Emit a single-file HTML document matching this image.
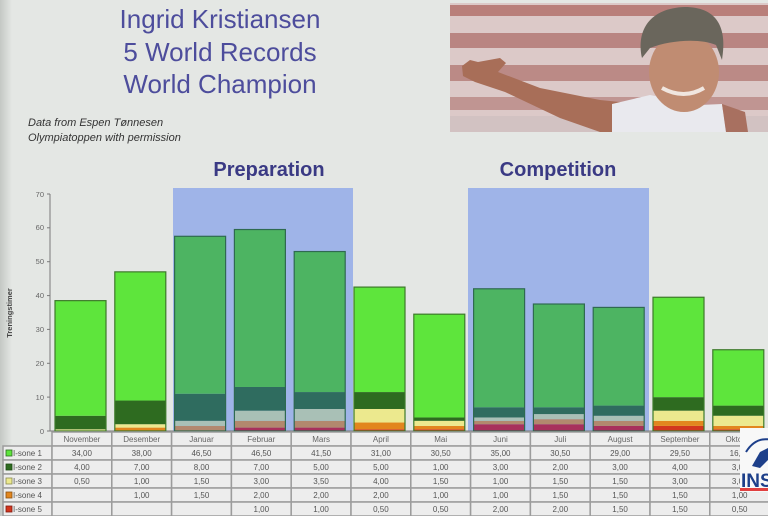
<!DOCTYPE html>
<html><head><meta charset="utf-8"><style>
html,body{margin:0;padding:0;width:768px;height:516px;overflow:hidden;background:#e4e7e4}
svg{display:block}
text{font-family:"Liberation Sans",sans-serif}
</style></head><body>
<svg width="768" height="516" viewBox="0 0 768 516" xmlns="http://www.w3.org/2000/svg">
<defs>
<linearGradient id="lv" x1="0" x2="1" y1="0" y2="0"><stop offset="0" stop-color="#c4c8c4"/><stop offset="1" stop-color="#e4e7e4"/></linearGradient>
<clipPath id="lg"><rect x="740" y="428" width="28" height="64"/></clipPath>
</defs>
<rect width="768" height="516" fill="#e4e7e4"/>
<rect width="12" height="516" fill="url(#lv)"/>

<!-- Title -->
<g fill="#4d4d9c" font-size="26" text-anchor="middle">
<text x="220" y="28">Ingrid Kristiansen</text>
<text x="220" y="61">5 World Records</text>
<text x="220" y="93">World Champion</text>
</g>
<g fill="#333" font-size="11" font-style="italic">
<text x="28" y="126">Data from Espen Tønnesen</text>
<text x="28" y="141">Olympiatoppen with permission</text>
</g>

<!-- Photo -->
<g>
<rect x="450" y="3" width="318" height="129" fill="#dcc9c8"/>
<rect x="450" y="5" width="318" height="11" fill="#b97f7a"/>
<rect x="450" y="33" width="318" height="15" fill="#b98582"/>
<rect x="450" y="65" width="318" height="16" fill="#bb8a86"/>
<rect x="450" y="97" width="318" height="13" fill="#c09592"/>
<rect x="450" y="116" width="318" height="16" fill="#d2c2c2"/>
<!-- arm -->
<path d="M462,66 L470,60 L478,62 L500,58 L506,63 L498,72 L540,88 L600,100 L640,104 L640,132 L600,132 L560,118 L505,92 L475,82 L463,76 Z" fill="#a86e58"/>
<!-- body/shirt -->
<path d="M612,104 L650,95 L700,105 L722,104 L726,132 L612,132 Z" fill="#e9e9ee"/>
<path d="M722,104 L745,112 L748,132 L726,132 Z" fill="#a87060"/>
<!-- face -->
<ellipse cx="684" cy="72" rx="35" ry="40" fill="#c08c72"/>
<!-- hair -->
<path d="M642,58 C636,30 650,8 685,7 C715,7 728,25 722,60 L716,45 C700,38 670,40 650,48 Z" fill="#6a665c"/>
<path d="M662,88 Q684,100 704,88" stroke="#f0e6e0" stroke-width="4" fill="none"/>
</g>

<!-- Phase labels -->
<g fill="#3a3a84" font-size="20" font-weight="bold" text-anchor="middle">
<text x="269" y="176">Preparation</text>
<text x="558" y="176">Competition</text>
</g>

<!-- Blue phase backgrounds -->
<rect x="173" y="188" width="180" height="243" fill="#9fb4e8"/>
<rect x="468" y="188" width="181" height="243" fill="#9fb4e8"/>

<!-- Axes -->
<line x1="50" y1="194" x2="50" y2="431" stroke="#7a7a7a" stroke-width="1"/>
<line x1="50" y1="431" x2="768" y2="431" stroke="#7a7a7a" stroke-width="1"/>
<g stroke="#7a7a7a" stroke-width="1">
<line x1="47" y1="431" x2="50" y2="431"/><line x1="47" y1="397.1" x2="50" y2="397.1"/>
<line x1="47" y1="363.3" x2="50" y2="363.3"/><line x1="47" y1="329.4" x2="50" y2="329.4"/>
<line x1="47" y1="295.6" x2="50" y2="295.6"/><line x1="47" y1="261.7" x2="50" y2="261.7"/>
<line x1="47" y1="227.8" x2="50" y2="227.8"/><line x1="47" y1="194" x2="50" y2="194"/>
</g>
<g fill="#666" font-size="7.5" text-anchor="end">
<text x="44" y="434">0</text><text x="44" y="400">10</text><text x="44" y="366">20</text>
<text x="44" y="332">30</text><text x="44" y="298">40</text><text x="44" y="264">50</text>
<text x="44" y="230">60</text><text x="44" y="197">70</text>
</g>
<text x="0" y="0" transform="translate(12,313) rotate(-90)" text-anchor="middle" font-size="7.5" font-weight="bold" fill="#444">Treningstimer</text>

<!-- Bars (normal) -->
<g stroke="none">
<!-- Nov -->
<rect x="55" y="429.31" width="51" height="1.69" fill="#ece98e"/>
<rect x="55" y="415.76" width="51" height="13.55" fill="#2e6b20"/>
<rect x="55" y="300.64" width="51" height="115.12" fill="#5ee53c"/>
<!-- Des -->
<rect x="114.8" y="427.61" width="51" height="3.39" fill="#e2861e"/>
<rect x="114.8" y="424.23" width="51" height="3.38" fill="#ece98e"/>
<rect x="114.8" y="400.53" width="51" height="23.70" fill="#2e6b20"/>
<rect x="114.8" y="271.86" width="51" height="128.67" fill="#5ee53c"/>
<!-- Jan (blue) -->
<rect x="174.6" y="425.92" width="51" height="5.08" fill="#b2886e"/>
<rect x="174.6" y="420.84" width="51" height="5.08" fill="#a9c0b6"/>
<rect x="174.6" y="393.75" width="51" height="27.09" fill="#2f6c5f"/>
<rect x="174.6" y="236.30" width="51" height="157.45" fill="#4db462"/>
<!-- Feb -->
<rect x="234.4" y="427.61" width="51" height="3.39" fill="#a8305c"/>
<rect x="234.4" y="420.84" width="51" height="6.77" fill="#b2886e"/>
<rect x="234.4" y="410.68" width="51" height="10.16" fill="#a9c0b6"/>
<rect x="234.4" y="386.98" width="51" height="23.70" fill="#2f6c5f"/>
<rect x="234.4" y="229.53" width="51" height="157.45" fill="#4db462"/>
<!-- Mar -->
<rect x="294.2" y="427.61" width="51" height="3.39" fill="#a8305c"/>
<rect x="294.2" y="420.84" width="51" height="6.77" fill="#b2886e"/>
<rect x="294.2" y="408.99" width="51" height="11.85" fill="#a9c0b6"/>
<rect x="294.2" y="392.06" width="51" height="16.93" fill="#2f6c5f"/>
<rect x="294.2" y="251.54" width="51" height="140.52" fill="#4db462"/>
<!-- Apr -->
<rect x="354" y="429.31" width="51" height="1.69" fill="#d2361e"/>
<rect x="354" y="422.53" width="51" height="6.78" fill="#e2861e"/>
<rect x="354" y="408.99" width="51" height="13.54" fill="#ece98e"/>
<rect x="354" y="392.06" width="51" height="16.93" fill="#2e6b20"/>
<rect x="354" y="287.09" width="51" height="104.97" fill="#5ee53c"/>
<!-- Mai -->
<rect x="413.8" y="429.31" width="51" height="1.69" fill="#d2361e"/>
<rect x="413.8" y="425.92" width="51" height="3.39" fill="#e2861e"/>
<rect x="413.8" y="420.84" width="51" height="5.08" fill="#ece98e"/>
<rect x="413.8" y="417.46" width="51" height="3.38" fill="#2e6b20"/>
<rect x="413.8" y="314.18" width="51" height="103.28" fill="#5ee53c"/>
<!-- Jun (blue) -->
<rect x="473.6" y="424.23" width="51" height="6.77" fill="#a8305c"/>
<rect x="473.6" y="420.84" width="51" height="3.39" fill="#b2886e"/>
<rect x="473.6" y="417.46" width="51" height="3.38" fill="#a9c0b6"/>
<rect x="473.6" y="407.30" width="51" height="10.16" fill="#2f6c5f"/>
<rect x="473.6" y="288.79" width="51" height="118.51" fill="#4db462"/>
<!-- Jul -->
<rect x="533.4" y="424.23" width="51" height="6.77" fill="#a8305c"/>
<rect x="533.4" y="419.15" width="51" height="5.08" fill="#b2886e"/>
<rect x="533.4" y="414.07" width="51" height="5.08" fill="#a9c0b6"/>
<rect x="533.4" y="407.30" width="51" height="6.77" fill="#2f6c5f"/>
<rect x="533.4" y="304.02" width="51" height="103.28" fill="#4db462"/>
<!-- Aug -->
<rect x="593.2" y="425.92" width="51" height="5.08" fill="#a8305c"/>
<rect x="593.2" y="420.84" width="51" height="5.08" fill="#b2886e"/>
<rect x="593.2" y="415.76" width="51" height="5.08" fill="#a9c0b6"/>
<rect x="593.2" y="405.60" width="51" height="10.16" fill="#2f6c5f"/>
<rect x="593.2" y="307.41" width="51" height="98.19" fill="#4db462"/>
<!-- Sep -->
<rect x="653" y="425.92" width="51" height="5.08" fill="#d2361e"/>
<rect x="653" y="420.84" width="51" height="5.08" fill="#e2861e"/>
<rect x="653" y="410.68" width="51" height="10.16" fill="#ece98e"/>
<rect x="653" y="397.14" width="51" height="13.54" fill="#2e6b20"/>
<rect x="653" y="297.25" width="51" height="99.89" fill="#5ee53c"/>
<!-- Okt -->
<rect x="712.8" y="429.31" width="51" height="1.69" fill="#d2361e"/>
<rect x="712.8" y="425.92" width="51" height="3.39" fill="#e2861e"/>
<rect x="712.8" y="415.76" width="51" height="10.16" fill="#ece98e"/>
<rect x="712.8" y="405.60" width="51" height="10.16" fill="#2e6b20"/>
<rect x="712.8" y="349.74" width="51" height="55.86" fill="#5ee53c"/>
</g>
<!-- Bar outlines -->
<g fill="none" stroke-width="1.2">
<rect x="55" y="300.64" width="51" height="130.36" stroke="#3d7a2a"/>
<rect x="114.8" y="271.86" width="51" height="159.14" stroke="#3d7a2a"/>
<rect x="174.6" y="236.30" width="51" height="194.70" stroke="#2f6a50"/>
<rect x="234.4" y="229.53" width="51" height="201.47" stroke="#2f6a50"/>
<rect x="294.2" y="251.54" width="51" height="179.46" stroke="#2f6a50"/>
<rect x="354" y="287.09" width="51" height="143.91" stroke="#3d7a2a"/>
<rect x="413.8" y="314.18" width="51" height="116.82" stroke="#3d7a2a"/>
<rect x="473.6" y="288.79" width="51" height="142.21" stroke="#2f6a50"/>
<rect x="533.4" y="304.02" width="51" height="126.98" stroke="#2f6a50"/>
<rect x="593.2" y="307.41" width="51" height="123.59" stroke="#2f6a50"/>
<rect x="653" y="297.25" width="51" height="133.75" stroke="#3d7a2a"/>
<rect x="712.8" y="349.74" width="51" height="81.26" stroke="#3d7a2a"/>
</g>

<!-- Table -->
<g fill="#ededed" stroke="#9c9c9c" stroke-width="1.5">
<rect x="3" y="446" width="49" height="14"/><rect x="3" y="460" width="49" height="14"/>
<rect x="3" y="474" width="49" height="14"/><rect x="3" y="488" width="49" height="14"/>
<rect x="3" y="502" width="49" height="14"/>
</g>
<g fill="#ededed" stroke="#9c9c9c" stroke-width="1.5">
<rect x="52" y="432" width="59.8" height="14"/><rect x="111.8" y="432" width="59.8" height="14"/><rect x="171.6" y="432" width="59.8" height="14"/><rect x="231.4" y="432" width="59.8" height="14"/><rect x="291.2" y="432" width="59.8" height="14"/><rect x="351" y="432" width="59.8" height="14"/><rect x="410.8" y="432" width="59.8" height="14"/><rect x="470.6" y="432" width="59.8" height="14"/><rect x="530.4" y="432" width="59.8" height="14"/><rect x="590.2" y="432" width="59.8" height="14"/><rect x="650" y="432" width="59.8" height="14"/><rect x="709.8" y="432" width="59.8" height="14"/>
<rect x="52" y="446" width="59.8" height="14"/><rect x="111.8" y="446" width="59.8" height="14"/><rect x="171.6" y="446" width="59.8" height="14"/><rect x="231.4" y="446" width="59.8" height="14"/><rect x="291.2" y="446" width="59.8" height="14"/><rect x="351" y="446" width="59.8" height="14"/><rect x="410.8" y="446" width="59.8" height="14"/><rect x="470.6" y="446" width="59.8" height="14"/><rect x="530.4" y="446" width="59.8" height="14"/><rect x="590.2" y="446" width="59.8" height="14"/><rect x="650" y="446" width="59.8" height="14"/><rect x="709.8" y="446" width="59.8" height="14"/>
<rect x="52" y="460" width="59.8" height="14"/><rect x="111.8" y="460" width="59.8" height="14"/><rect x="171.6" y="460" width="59.8" height="14"/><rect x="231.4" y="460" width="59.8" height="14"/><rect x="291.2" y="460" width="59.8" height="14"/><rect x="351" y="460" width="59.8" height="14"/><rect x="410.8" y="460" width="59.8" height="14"/><rect x="470.6" y="460" width="59.8" height="14"/><rect x="530.4" y="460" width="59.8" height="14"/><rect x="590.2" y="460" width="59.8" height="14"/><rect x="650" y="460" width="59.8" height="14"/><rect x="709.8" y="460" width="59.8" height="14"/>
<rect x="52" y="474" width="59.8" height="14"/><rect x="111.8" y="474" width="59.8" height="14"/><rect x="171.6" y="474" width="59.8" height="14"/><rect x="231.4" y="474" width="59.8" height="14"/><rect x="291.2" y="474" width="59.8" height="14"/><rect x="351" y="474" width="59.8" height="14"/><rect x="410.8" y="474" width="59.8" height="14"/><rect x="470.6" y="474" width="59.8" height="14"/><rect x="530.4" y="474" width="59.8" height="14"/><rect x="590.2" y="474" width="59.8" height="14"/><rect x="650" y="474" width="59.8" height="14"/><rect x="709.8" y="474" width="59.8" height="14"/>
<rect x="52" y="488" width="59.8" height="14"/><rect x="111.8" y="488" width="59.8" height="14"/><rect x="171.6" y="488" width="59.8" height="14"/><rect x="231.4" y="488" width="59.8" height="14"/><rect x="291.2" y="488" width="59.8" height="14"/><rect x="351" y="488" width="59.8" height="14"/><rect x="410.8" y="488" width="59.8" height="14"/><rect x="470.6" y="488" width="59.8" height="14"/><rect x="530.4" y="488" width="59.8" height="14"/><rect x="590.2" y="488" width="59.8" height="14"/><rect x="650" y="488" width="59.8" height="14"/><rect x="709.8" y="488" width="59.8" height="14"/>
<rect x="52" y="502" width="59.8" height="14"/><rect x="111.8" y="502" width="59.8" height="14"/><rect x="171.6" y="502" width="59.8" height="14"/><rect x="231.4" y="502" width="59.8" height="14"/><rect x="291.2" y="502" width="59.8" height="14"/><rect x="351" y="502" width="59.8" height="14"/><rect x="410.8" y="502" width="59.8" height="14"/><rect x="470.6" y="502" width="59.8" height="14"/><rect x="530.4" y="502" width="59.8" height="14"/><rect x="590.2" y="502" width="59.8" height="14"/><rect x="650" y="502" width="59.8" height="14"/><rect x="709.8" y="502" width="59.8" height="14"/>
</g>
<!-- legend markers -->
<rect x="6" y="450" width="6" height="6" fill="#5ee53c" stroke="#2e6b20" stroke-width="0.8"/>
<rect x="6" y="464" width="6" height="6" fill="#2e6b20" stroke="#1e4a14" stroke-width="0.8"/>
<rect x="6" y="478" width="6" height="6" fill="#ece98e" stroke="#8a8a50" stroke-width="0.8"/>
<rect x="6" y="492" width="6" height="6" fill="#e2861e" stroke="#8a5010" stroke-width="0.8"/>
<rect x="6" y="506" width="6" height="6" fill="#d2361e" stroke="#801a10" stroke-width="0.8"/>
<g fill="#555" font-size="8">
<text x="13" y="456">I-sone 1</text><text x="13" y="470">I-sone 2</text><text x="13" y="484">I-sone 3</text>
<text x="13" y="498">I-sone 4</text><text x="13" y="512">I-sone 5</text>
</g>
<g fill="#666" font-size="8" text-anchor="middle">
<text x="81.9" y="442">November</text><text x="141.7" y="442">Desember</text><text x="201.5" y="442">Januar</text><text x="261.3" y="442">Februar</text><text x="321.1" y="442">Mars</text><text x="380.9" y="442">April</text><text x="440.7" y="442">Mai</text><text x="500.5" y="442">Juni</text><text x="560.3" y="442">Juli</text><text x="620.1" y="442">August</text><text x="679.9" y="442">September</text><text x="739.7" y="442">Oktober</text>
</g>
<g fill="#555" font-size="8" text-anchor="middle">
<text x="81.9" y="456">34,00</text><text x="141.7" y="456">38,00</text><text x="201.5" y="456">46,50</text><text x="261.3" y="456">46,50</text><text x="321.1" y="456">41,50</text><text x="380.9" y="456">31,00</text><text x="440.7" y="456">30,50</text><text x="500.5" y="456">35,00</text><text x="560.3" y="456">30,50</text><text x="620.1" y="456">29,00</text><text x="679.9" y="456">29,50</text><text x="739.7" y="456">16,50</text>
<text x="81.9" y="470">4,00</text><text x="141.7" y="470">7,00</text><text x="201.5" y="470">8,00</text><text x="261.3" y="470">7,00</text><text x="321.1" y="470">5,00</text><text x="380.9" y="470">5,00</text><text x="440.7" y="470">1,00</text><text x="500.5" y="470">3,00</text><text x="560.3" y="470">2,00</text><text x="620.1" y="470">3,00</text><text x="679.9" y="470">4,00</text><text x="739.7" y="470">3,00</text>
<text x="81.9" y="484">0,50</text><text x="141.7" y="484">1,00</text><text x="201.5" y="484">1,50</text><text x="261.3" y="484">3,00</text><text x="321.1" y="484">3,50</text><text x="380.9" y="484">4,00</text><text x="440.7" y="484">1,50</text><text x="500.5" y="484">1,00</text><text x="560.3" y="484">1,50</text><text x="620.1" y="484">1,50</text><text x="679.9" y="484">3,00</text><text x="739.7" y="484">3,00</text>
<text x="141.7" y="498">1,00</text><text x="201.5" y="498">1,50</text><text x="261.3" y="498">2,00</text><text x="321.1" y="498">2,00</text><text x="380.9" y="498">2,00</text><text x="440.7" y="498">1,00</text><text x="500.5" y="498">1,00</text><text x="560.3" y="498">1,50</text><text x="620.1" y="498">1,50</text><text x="679.9" y="498">1,50</text><text x="739.7" y="498">1,00</text>
<text x="261.3" y="512">1,00</text><text x="321.1" y="512">1,00</text><text x="380.9" y="512">0,50</text><text x="440.7" y="512">0,50</text><text x="500.5" y="512">2,00</text><text x="560.3" y="512">2,00</text><text x="620.1" y="512">1,50</text><text x="679.9" y="512">1,50</text><text x="739.7" y="512">0,50</text>
</g>

<!-- Logo -->
<rect x="740" y="428" width="28" height="64" fill="#f8f8f8"/>
<g clip-path="url(#lg)">
<path d="M746,452 Q756,436 772,440" stroke="#1d3f8a" stroke-width="2" fill="none"/>
<path d="M752,466 L760,452 L768,448 L768,460 L760,468 Z" fill="#1d3f8a"/>
<text x="741" y="487" font-family="Liberation Serif,serif" font-weight="bold" font-size="19" fill="#1d3f8a">INS</text>
<rect x="740" y="488" width="28" height="3" fill="#e04040"/>
</g>
</svg>
</body></html>
